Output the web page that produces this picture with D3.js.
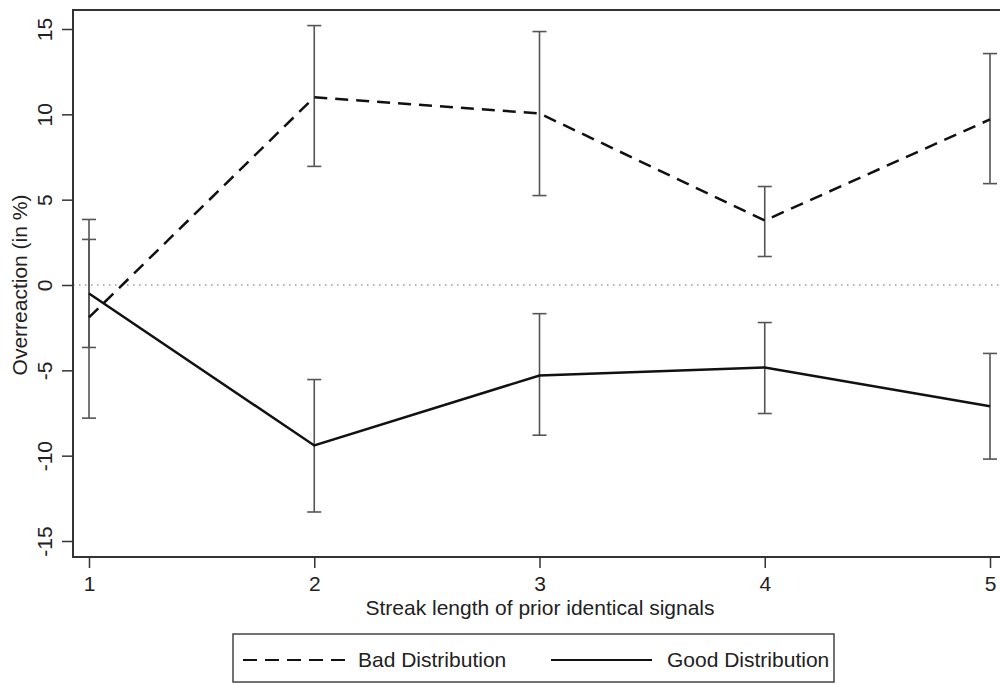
<!DOCTYPE html>
<html><head><meta charset="utf-8">
<script src="https://cdn.jsdelivr.net/npm/d3@7"></script>
<style>body{margin:0;background:#fff;}svg{display:block;font-family:"Liberation Sans",Arial,sans-serif;}</style>
</head><body><svg id="c" width="1000" height="684"></svg>
<script>
const streak = [1, 2, 3, 4, 5];
const badMean = [-1.9, 11.0, 10.05, 3.78, 9.7];
const badLow = [-7.8, 6.95, 5.24, 1.67, 5.94];
const badHigh = [3.84, 15.2, 14.85, 5.77, 13.56];
const goodMean = [-0.5, -9.4, -5.3, -4.83, -7.1];
const goodLow = [-3.66, -13.3, -8.8, -7.53, -10.2];
const goodHigh = [2.67, -5.54, -1.68, -2.2, -4.01];
const yTicks = [-15, -10, -5, 0, 5, 10, 15];
const xTicks = [1, 2, 3, 4, 5];
const legendLabels = ["Bad Distribution", "Good Distribution"];

const FS = 21;
const svg = d3.select("#c");
const x = d3.scaleLinear().domain([1, 5]).range([89, 990]);
const y = d3.scaleLinear().domain([-15, 15]).range([541, 29]);
const frame = {l: 73, t: 10, b: 557, r: 1007};

svg.append("line").attr("x1", frame.l).attr("x2", frame.r)
  .attr("y1", y(0)).attr("y2", y(0))
  .attr("stroke", "#999").attr("stroke-width", 1.3).attr("stroke-dasharray", "1.5,4.5");

svg.append("rect").attr("x", frame.l).attr("y", frame.t)
  .attr("width", frame.r - frame.l).attr("height", frame.b - frame.t)
  .attr("fill", "none").attr("stroke", "#333").attr("stroke-width", 2);

const ya = svg.append("g").attr("transform", `translate(${frame.l},0)`)
  .call(d3.axisLeft(y).tickValues(yTicks).tickSize(11).tickPadding(0).tickFormat(d3.format("d")));
ya.attr("font-size", null).attr("font-family", null);
ya.select(".domain").remove();
ya.selectAll(".tick line").attr("stroke", "#333").attr("stroke-width", 1.5);
ya.selectAll(".tick text").attr("font-size", FS).attr("fill", "#222")
  .attr("transform", "translate(-28,0) rotate(-90)").attr("text-anchor", "middle").attr("dy", "0.35em").attr("x", 0)
  .text(d => d < 0 ? "-" + Math.abs(d) : d);

const xa = svg.append("g").attr("transform", `translate(0,${frame.b})`)
  .call(d3.axisBottom(x).tickValues(xTicks).tickSize(11).tickPadding(8).tickFormat(d3.format("d")));
xa.attr("font-size", null).attr("font-family", null);
xa.select(".domain").remove();
xa.selectAll(".tick line").attr("stroke", "#333").attr("stroke-width", 1.5);
xa.selectAll(".tick text").attr("font-size", FS).attr("fill", "#222");

svg.append("text").attr("x", 540).attr("y", 615).attr("text-anchor", "middle")
  .attr("font-size", FS).attr("fill", "#222").text("Streak length of prior identical signals");
svg.append("text").attr("transform", `translate(27,${y(0)}) rotate(-90)`).attr("text-anchor", "middle")
  .attr("font-size", FS).attr("fill", "#222").text("Overreaction (in %)");

function errBars(lo, hi) {
  const g = svg.append("g").attr("stroke", "#555").attr("stroke-width", 1.6);
  streak.forEach((s, i) => {
    g.append("line").attr("x1", x(s)).attr("x2", x(s)).attr("y1", y(lo[i])).attr("y2", y(hi[i]));
    [lo[i], hi[i]].forEach(v => g.append("line").attr("x1", x(s) - 7).attr("x2", x(s) + 7).attr("y1", y(v)).attr("y2", y(v)));
  });
}
errBars(badLow, badHigh);
errBars(goodLow, goodHigh);

const line = d3.line().x((d, i) => x(streak[i])).y(d => y(d));
svg.append("path").datum(badMean).attr("d", line).attr("fill", "none")
  .attr("stroke", "#111").attr("stroke-width", 2.5).attr("stroke-dasharray", "13,8");
svg.append("path").datum(goodMean).attr("d", line).attr("fill", "none")
  .attr("stroke", "#111").attr("stroke-width", 2.5);

const lg = svg.append("g");
lg.append("rect").attr("x", 233).attr("y", 634).attr("width", 601).attr("height", 48)
  .attr("fill", "none").attr("stroke", "#444").attr("stroke-width", 1.5);
lg.append("line").attr("x1", 243).attr("x2", 345).attr("y1", 660).attr("y2", 660)
  .attr("stroke", "#111").attr("stroke-width", 2).attr("stroke-dasharray", "14,8");
lg.append("text").attr("x", 358).attr("y", 667).attr("font-size", FS).attr("fill", "#222").text(legendLabels[0]);
lg.append("line").attr("x1", 551).attr("x2", 652).attr("y1", 660).attr("y2", 660)
  .attr("stroke", "#111").attr("stroke-width", 2);
lg.append("text").attr("x", 667).attr("y", 667).attr("font-size", FS).attr("fill", "#222").text(legendLabels[1]);
</script></body></html>
